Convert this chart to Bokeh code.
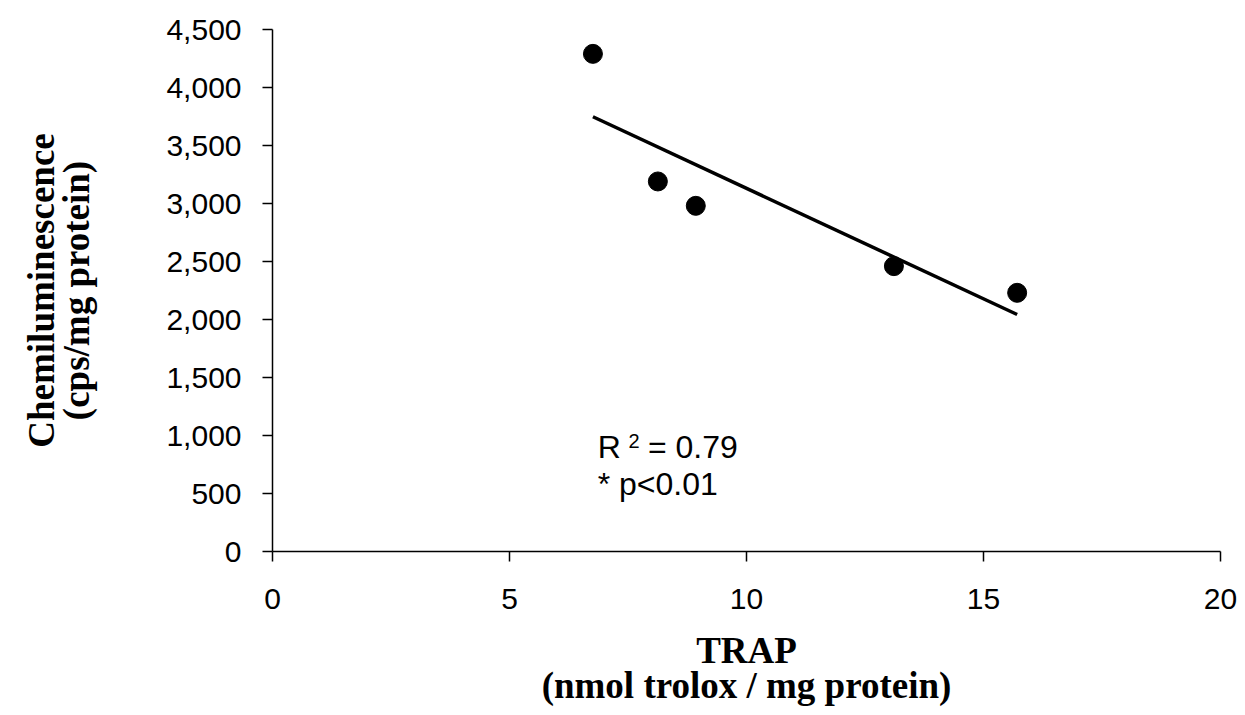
import numpy as np
from bokeh.plotting import figure
from bokeh.models import Label, FixedTicker, NumeralTickFormatter, Range1d
from bokeh.embed import file_html
from bokeh.resources import INLINE

# Data
trap = [6.76, 8.13, 8.93, 13.11, 15.71]
chemi = [4290, 3190, 2980, 2460, 2230]
x_ticks = [0, 5, 10, 15, 20]
y_ticks = [0, 500, 1000, 1500, 2000, 2500, 3000, 3500, 4000, 4500]
r2_text = "0.79"
p_text = "* p<0.01"

# Linear trend line fitted to the data
slope, intercept = np.polyfit(trap, chemi, 1)
fit_x = [min(trap), max(trap)]
fit_y = [slope * v + intercept for v in fit_x]

p = figure(width=1237, height=713, output_backend="svg", toolbar_location=None,
           x_range=Range1d(0, 20), y_range=Range1d(0, 4500),
           min_border_left=272, min_border_right=17, min_border_top=29, min_border_bottom=162)
p.background_fill_color = "white"
p.border_fill_color = "white"
p.outline_line_color = None
p.grid.visible = False

p.line(fit_x, fit_y, line_color="black", line_width=3.5)
p.scatter(trap, chemi, size=19, fill_color="black", line_color="black")

sans = "Liberation Sans"
serif = "Liberation Serif"

for ax in (p.xaxis[0], p.yaxis[0]):
    ax.axis_line_color = "black"
    ax.axis_line_width = 1.5
    ax.major_tick_line_color = "black"
    ax.major_tick_line_width = 1.5
    ax.major_tick_out = 10
    ax.major_tick_in = 0
    ax.minor_tick_line_color = None
    ax.major_label_text_font = sans
    ax.major_label_text_font_size = "30px"
    ax.major_label_text_color = "black"
    ax.axis_label_text_font = serif
    ax.axis_label_text_font_style = "bold"
    ax.axis_label_text_font_size = "37px"
    ax.axis_label_text_color = "black"
    ax.axis_label_text_line_height = 0.86

p.xaxis.ticker = FixedTicker(ticks=x_ticks)
p.yaxis.ticker = FixedTicker(ticks=y_ticks)
p.yaxis.formatter = NumeralTickFormatter(format="0,0")
p.xaxis.major_label_standoff = 27
p.yaxis.major_label_standoff = 21
p.xaxis.axis_label = "TRAP\n(nmol trolox / mg protein)"
p.yaxis.axis_label = "Chemiluminescence\n(cps/mg protein)"
p.xaxis.axis_label_standoff = 18
p.yaxis.axis_label_standoff = 66

# Annotation text
p.add_layout(Label(x=6.86, y=905, text="R", text_font=sans, text_font_size="32px",
                   text_color="black", text_baseline="alphabetic"))
p.add_layout(Label(x=7.51, y=956, text="2", text_font=sans, text_font_size="20px",
                   text_color="black", text_baseline="alphabetic"))
p.add_layout(Label(x=7.92, y=905, text="= " + r2_text, text_font=sans, text_font_size="32px",
                   text_color="black", text_baseline="alphabetic"))
p.add_layout(Label(x=6.86, y=586, text=p_text, text_font=sans, text_font_size="32px",
                   text_color="black", text_baseline="alphabetic"))

open("out.html", "w").write(file_html(p, INLINE))
